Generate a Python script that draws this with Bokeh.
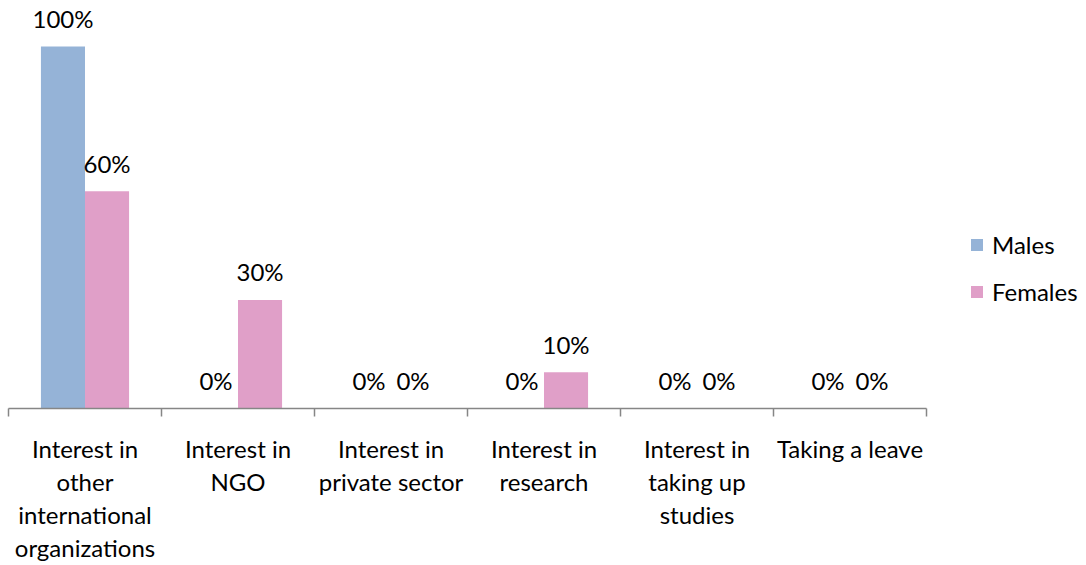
import numpy as np
from bokeh.plotting import figure
from bokeh.models import (ColumnDataSource, Range1d, FixedTicker, Legend, LegendItem)
from bokeh.transform import dodge
from bokeh.core.properties import value
from bokeh.embed import file_html
from bokeh.resources import INLINE

categories = ["Interest in\nother\ninternational\norganizations",
              "Interest in\nNGO",
              "Interest in\nprivate sector",
              "Interest in\nresearch",
              "Interest in\ntaking up\nstudies",
              "Taking a leave"]
males = [1.00, 0.0, 0.0, 0.0, 0.0, 0.0]
females = [0.60, 0.30, 0.0, 0.10, 0.0, 0.0]
series_names = ["Males", "Females"]
colors = ["#95B3D7", "#E09FC8"]

FONT = "Lato"
FS = "24px"
n = len(categories)
x = np.arange(n) + 0.5
src = ColumnDataSource(dict(
    x=x, males=males, females=females,
    ml=[f"{round(v*100)}%" for v in males],
    fl=[f"{round(v*100)}%" for v in females],
))

W, H = 1086, 565
frame_w = W - 8
cat_px = 918
p = figure(width=W, height=H, output_backend="svg", toolbar_location=None,
           x_range=Range1d(0, n * frame_w / cat_px), y_range=Range1d(0, 408 / 362),
           min_border_left=8, min_border_right=0, min_border_top=0,
           min_border_bottom=157)
p.outline_line_color = None
p.grid.grid_line_color = None
p.yaxis.visible = False

bw = 0.288
r_m = p.vbar(x=dodge("x", -bw/2, range=p.x_range), top="males", width=bw, source=src,
             color=colors[0], line_color=None)
r_f = p.vbar(x=dodge("x", bw/2, range=p.x_range), top="females", width=bw, source=src,
             color=colors[1], line_color=None)

for col, lab, off in [("males", "ml", -bw/2), ("females", "fl", bw/2)]:
    p.text(x=dodge("x", off, range=p.x_range), y=col, text=lab, source=src,
           text_align="center", text_baseline="middle", y_offset=-28,
           text_font=value(FONT), text_font_size=FS, text_color="#000000")

ax = p.xaxis[0]
ax.bounds = (0, n)
ax.ticker = FixedTicker(ticks=list(x), minor_ticks=list(range(n + 1)))
ax.major_label_overrides = {float(xx): c for xx, c in zip(x, categories)}
ax.major_tick_line_color = None
ax.major_tick_out = 0
ax.major_tick_in = 0
ax.minor_tick_line_color = "#868686"
ax.minor_tick_out = 8
ax.minor_tick_in = 0
ax.axis_line_color = "#868686"
ax.axis_line_width = 1.5
ax.minor_tick_line_width = 1.5
ax.major_label_text_font = FONT
ax.major_label_text_font_size = FS
ax.major_label_text_color = "#000000"
ax.major_label_text_line_height = 1.146
ax.major_label_standoff = 17

legend = Legend(items=[LegendItem(label=series_names[0], renderers=[r_m]),
                       LegendItem(label=series_names[1], renderers=[r_f])],
                location=(961, 102), orientation="vertical",
                label_text_font=FONT, label_text_font_size=FS,
                label_text_color="#000000",
                glyph_width=15, glyph_height=15, spacing=18,
                border_line_color=None, background_fill_alpha=0,
                label_standoff=8, padding=0, margin=0)
p.add_layout(legend, "center")

open("out.html", "w").write(file_html(p, INLINE))
